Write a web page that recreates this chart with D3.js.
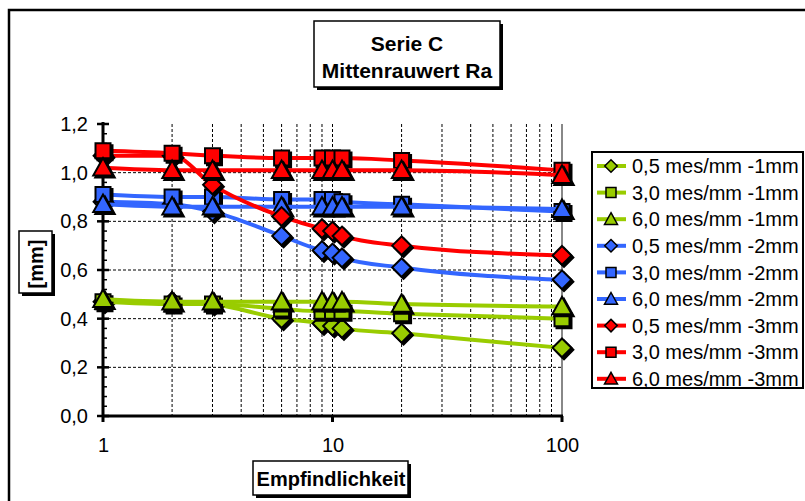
<!DOCTYPE html>
<html><head><meta charset="utf-8">
<script src="https://cdn.jsdelivr.net/npm/d3@7"></script>
<style>body{margin:0;background:#fff}svg{display:block;font-family:"Liberation Sans",Arial,sans-serif}</style>
</head><body>
<svg id="c" width="805" height="501"></svg>
<script>
const xValues = [1, 2, 3, 6, 9, 10, 11, 20, 100];
const seriesNames = [
  "0,5 mes/mm -1mm","3,0 mes/mm -1mm","6,0 mes/mm -1mm",
  "0,5 mes/mm -2mm","3,0 mes/mm -2mm","6,0 mes/mm -2mm",
  "0,5 mes/mm -3mm","3,0 mes/mm -3mm","6,0 mes/mm -3mm"];
const g05_1 = [0.47, 0.47, 0.46, 0.40, 0.38, 0.37, 0.36, 0.34, 0.28];
const g30_1 = [0.47, 0.46, 0.46, 0.44, 0.43, 0.43, 0.43, 0.42, 0.40];
const g60_1 = [0.48, 0.47, 0.47, 0.47, 0.47, 0.47, 0.47, 0.46, 0.45];
const b05_2 = [0.88, 0.87, 0.84, 0.74, 0.68, 0.67, 0.65, 0.61, 0.56];
const b30_2 = [0.91, 0.90, 0.90, 0.89, 0.89, 0.89, 0.88, 0.87, 0.84];
const b60_2 = [0.87, 0.86, 0.86, 0.86, 0.86, 0.86, 0.86, 0.86, 0.85];
const r05_3 = [1.07, 1.07, 0.95, 0.82, 0.77, 0.76, 0.74, 0.70, 0.66];
const r30_3 = [1.09, 1.08, 1.07, 1.06, 1.06, 1.06, 1.06, 1.05, 1.01];
const r60_3 = [1.02, 1.01, 1.01, 1.01, 1.01, 1.01, 1.01, 1.01, 0.99];
const seriesValues = [g05_1, g30_1, g60_1, b05_2, b30_2, b60_2, r05_3, r30_3, r60_3];
const seriesColors = ["#99CC00","#99CC00","#99CC00","#3366FF","#3366FF","#3366FF","#FF0000","#FF0000","#FF0000"];
const seriesShapes = ["diamond","square","triangle","diamond","square","triangle","diamond","square","triangle"];
const yTicks = [0, 0.2, 0.4, 0.6, 0.8, 1.0, 1.2];
const xTicks = [1, 10, 100];
const titleLines = ["Serie C", "Mittenrauwert Ra"];
const yTitle = "[mm]";
const xTitle = "Empfindlichkeit";

const svg = d3.select("#c");
const L = 103, R = 562, T = 124, B = 416;
const x = d3.scaleLog().domain([1, 100]).range([L, R]);
const y = d3.scaleLinear().domain([0, 1.2]).range([B, T]);
const fmt = d => d3.format(".1f")(d).replace(".", ",");

// outer frame
svg.append("rect").attr("x", 9).attr("y", 10).attr("width", 820).attr("height", 520)
  .attr("fill", "none").attr("stroke", "#000").attr("stroke-width", 2.5);

// grid
const minorX = [];
[1, 10].forEach(d => { for (let k = 2; k <= 9; k++) minorX.push(d * k); });
minorX.push(10);
svg.append("g").selectAll("line").data(minorX).join("line")
  .attr("x1", d => x(d)).attr("x2", d => x(d)).attr("y1", T).attr("y2", B)
  .attr("stroke", "#000").attr("stroke-width", 1).attr("stroke-dasharray", "3,2");
svg.append("g").selectAll("line").data(yTicks.filter(d => d > 0 && d < 1.2)).join("line")
  .attr("x1", L).attr("x2", R).attr("y1", d => y(d)).attr("y2", d => y(d))
  .attr("stroke", "#000").attr("stroke-width", 1).attr("stroke-dasharray", "3,2");
svg.append("line").attr("x1", R).attr("x2", R).attr("y1", T).attr("y2", B)
  .attr("stroke", "#888").attr("stroke-width", 2);

// y axis
const yAxis = d3.axisLeft(y).tickValues(yTicks).tickFormat(fmt).tickSize(0).tickPadding(15);
const ya = svg.append("g").attr("transform", `translate(${L},0)`).call(yAxis);
ya.select(".domain").remove();
ya.selectAll("text").attr("font-size", 20).attr("fill", "#000").attr("font-family", "Liberation Sans, Arial, sans-serif");
const minorY = d3.range(0, 1.2001, 0.04);
svg.append("g").selectAll("line").data(minorY).join("line")
  .attr("x1", L).attr("x2", L + 4).attr("y1", d => y(d)).attr("y2", d => y(d))
  .attr("stroke", "#000").attr("stroke-width", 1.5);
svg.append("g").selectAll("line").data(yTicks).join("line")
  .attr("x1", L - 6).attr("x2", L + 6).attr("y1", d => y(d)).attr("y2", d => y(d))
  .attr("stroke", "#000").attr("stroke-width", 2.5);
svg.append("line").attr("x1", L).attr("x2", L).attr("y1", T - 2).attr("y2", B + 1)
  .attr("stroke", "#000").attr("stroke-width", 3);

// x axis
const xAxis = d3.axisBottom(x).tickValues(xTicks).tickFormat(d3.format("d")).tickSize(0).tickPadding(22);
const xa = svg.append("g").attr("transform", `translate(0,${B})`).call(xAxis);
xa.select(".domain").remove();
xa.selectAll("text").attr("font-size", 20).attr("fill", "#000").attr("font-family", "Liberation Sans, Arial, sans-serif");
svg.append("g").selectAll("line").data(xTicks).join("line")
  .attr("x1", d => x(d)).attr("x2", d => x(d)).attr("y1", B).attr("y2", B + 6)
  .attr("stroke", "#000").attr("stroke-width", 3);
svg.append("line").attr("x1", L - 1).attr("x2", R + 1).attr("y1", B).attr("y2", B)
  .attr("stroke", "#000").attr("stroke-width", 3);

// marker paths
function shapePath(shape, s) {
  if (shape === "square") return `M${-s},${-s}H${s}V${s}H${-s}Z`;
  if (shape === "diamond") { const d = s * 1.25; return `M0,${-d}L${d},0L0,${d}L${-d},0Z`; }
  const h = s * 1.3; return `M0,${-h}L${h},${h * 0.8}L${-h},${h * 0.8}Z`;
}

const line = d3.line().x(d => x(d[0])).y(d => y(d[1])).curve(d3.curveMonotoneX);
seriesValues.forEach((vals, i) => {
  const pts = xValues.map((xv, j) => [xv, vals[j]]);
  const g = svg.append("g");
  g.append("path").attr("d", line(pts)).attr("fill", "none")
    .attr("stroke", seriesColors[i]).attr("stroke-width", 4).attr("stroke-linejoin", "round");
  const p = shapePath(seriesShapes[i], 7.5);
  g.selectAll(".sh").data(pts).join("path").attr("class", "sh")
    .attr("transform", d => `translate(${x(d[0]) + 2},${y(d[1]) + 2})`)
    .attr("d", p).attr("fill", "#000").attr("stroke", "#000").attr("stroke-width", 2);
  g.selectAll(".mk").data(pts).join("path").attr("class", "mk")
    .attr("transform", d => `translate(${x(d[0])},${y(d[1])})`)
    .attr("d", p).attr("fill", seriesColors[i]).attr("stroke", "#000").attr("stroke-width", 2);
});

// legend
const lg = svg.append("g");
lg.append("rect").attr("x", 592).attr("y", 152).attr("width", 211).attr("height", 236)
  .attr("fill", "#fff").attr("stroke", "#000").attr("stroke-width", 2);
seriesNames.forEach((name, i) => {
  const cy = 166 + i * 26.6;
  lg.append("line").attr("x1", 597).attr("x2", 626).attr("y1", cy).attr("y2", cy)
    .attr("stroke", seriesColors[i]).attr("stroke-width", 4);
  lg.append("path").attr("transform", `translate(611,${cy})`).attr("d", shapePath(seriesShapes[i], 5))
    .attr("fill", seriesColors[i]).attr("stroke", "#000").attr("stroke-width", 1.5);
  lg.append("text").attr("x", 632).attr("y", cy).attr("dy", "0.36em")
    .attr("font-size", 20).attr("fill", "#000").text(name);
});

// title box
svg.append("rect").attr("x", 317).attr("y", 24).attr("width", 186).attr("height", 66).attr("fill", "#000");
svg.append("rect").attr("x", 314).attr("y", 21).attr("width", 186).attr("height", 66)
  .attr("fill", "#fff").attr("stroke", "#000").attr("stroke-width", 1.5);
titleLines.forEach((t, i) => {
  svg.append("text").attr("x", 407).attr("y", 43 + i * 27).attr("dy", "0.36em")
    .attr("text-anchor", "middle").attr("font-size", 21).attr("font-weight", "bold").text(t);
});

// y title box
svg.append("rect").attr("x", 22).attr("y", 234).attr("width", 33).attr("height", 62).attr("fill", "#000");
svg.append("rect").attr("x", 19).attr("y", 231).attr("width", 33).attr("height", 62)
  .attr("fill", "#fff").attr("stroke", "#000").attr("stroke-width", 1.5);
svg.append("text").attr("transform", "translate(36,264) rotate(-90)").attr("dy", "0.36em")
  .attr("text-anchor", "middle").attr("font-size", 20).attr("font-weight", "bold").text(yTitle);

// x title box
svg.append("rect").attr("x", 256).attr("y", 464).attr("width", 155).attr("height", 34).attr("fill", "#000");
svg.append("rect").attr("x", 253).attr("y", 461).attr("width", 155).attr("height", 34)
  .attr("fill", "#fff").attr("stroke", "#000").attr("stroke-width", 1.5);
svg.append("text").attr("x", 331).attr("y", 479).attr("dy", "0.36em")
  .attr("text-anchor", "middle").attr("font-size", 20).attr("font-weight", "bold").text(xTitle);
</script>
</body></html>
